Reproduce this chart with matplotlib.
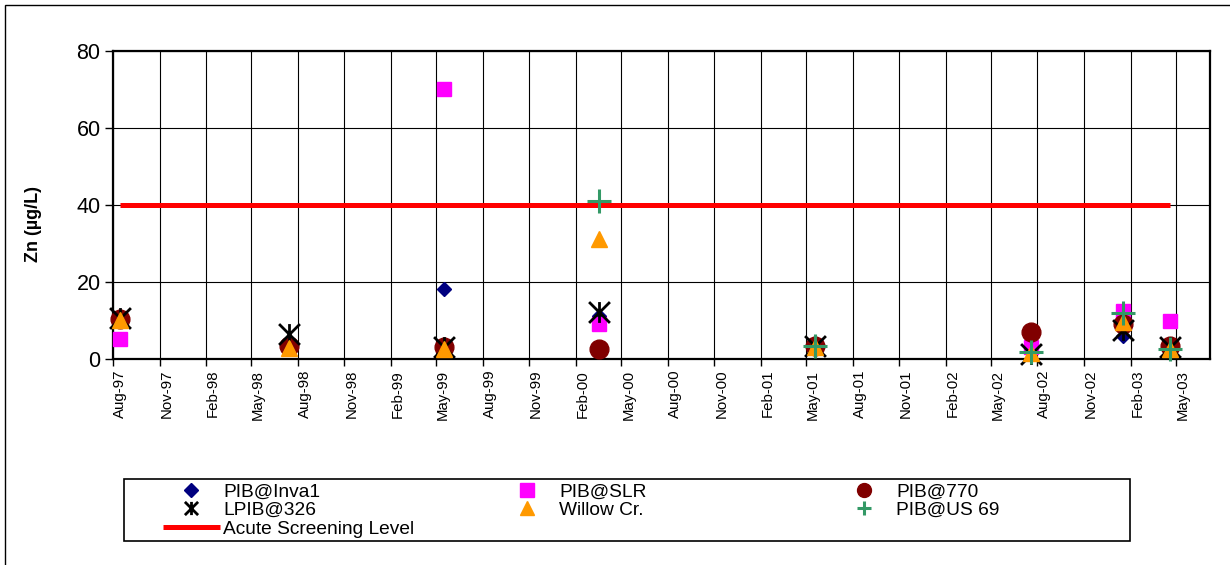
import numpy as np
import pandas as pd
import matplotlib
matplotlib.use("Agg")
import matplotlib.pyplot as plt
import matplotlib.dates as mdates
from matplotlib.path import Path
from matplotlib.patches import Rectangle
from matplotlib.transforms import ScaledTranslation

plt.rcParams['font.family'] = ['Liberation Sans', 'DejaVu Sans']

# Sampling dates
sample_dates = pd.to_datetime([
    "1997-08-15", "1998-07-14", "1999-05-17", "2000-03-18",
    "2001-05-19", "2002-07-19", "2003-01-17", "2003-04-20",
])

nan = np.nan
# Dissolved zinc (ug/L) at each station
pib_inva1 = [10, 3, 18, 11, 3, 2, 6, 3]
pib_slr = [5, nan, 70, 9, 3, 3, 12.5, 9.7]
pib_770 = [10.2, 3.2, 3, 2.6, 3.3, 7, 9, 3.4]
lpib_326 = [10.5, 6.5, 3, 12.2, 3.3, 1.2, 7.5, 3]
willow_cr = [10, 2.8, 2.5, 31, 3, 1.6, 9.6, 2.6]
pib_us69 = [nan, nan, nan, 41, 3.2, 1.8, 12, 2.6]

acute_level = 40

series_labels = ["PIB@Inva1", "PIB@SLR", "PIB@770",
                 "LPIB@326", "Willow Cr.", "PIB@US 69"]
acute_label = "Acute Screening Level"

# Excel-style star: an X crossed by a vertical bar
star = Path([(-1, -1), (1, 1), (-1, 1), (1, -1), (0, -1), (0, 1)],
            [Path.MOVETO, Path.LINETO, Path.MOVETO, Path.LINETO,
             Path.MOVETO, Path.LINETO])

W, H = 1230, 565
fig = plt.figure(figsize=(W / 100, H / 100), dpi=100)
fig.patch.set_facecolor("white")

# outer chart border
fig.add_artist(Rectangle((5 / W, -0.1), 1.2, 1 - 5 / H + 0.1,
                         transform=fig.transFigure, fill=False,
                         edgecolor="black", lw=1.0))

ax = fig.add_axes([113 / W, 1 - 358.7 / H, (1210 - 113) / W, 308 / H])

# marker style per series, with the marker size used in the legend
styles = [
    dict(marker="D", ms=7.5, color="#000080", leg_ms=7.0),
    dict(marker="s", ms=10.5, color="#FF00FF", leg_ms=9.5),
    dict(marker="o", ms=13.5, color="#800000", leg_ms=10.0),
    dict(marker=star, ms=15, color="black", mew=2.0, leg_ms=9.5),
    dict(marker="^", ms=11.5, color="#FF9900", leg_ms=10.5),
    dict(marker="+", ms=17, color="#339966", mew=2.2, leg_ms=10.5),
]
all_values = [pib_inva1, pib_slr, pib_770, lpib_326, willow_cr, pib_us69]

handles = []
legend_ms = {}
for vals, lab, st in zip(all_values, series_labels, styles):
    st = dict(st)
    col = st.pop("color")
    legend_ms[lab] = st.pop("leg_ms")
    (h,) = ax.plot(sample_dates, np.array(vals, dtype=float), linestyle="none",
                   color=col, mfc=col, mec=col, label=lab, clip_on=False,
                   zorder=3, **st)
    handles.append(h)

(acute_h,) = ax.plot([sample_dates[0], sample_dates[-1]],
                     [acute_level, acute_level], color="#FF0000", lw=3.6,
                     solid_capstyle="butt", zorder=2, label=acute_label)

ax.set_xlim(pd.Timestamp("1997-08-01"), pd.Timestamp("2003-07-08"))
ax.set_ylim(0, 80)
ax.set_yticks([0, 20, 40, 60, 80])
ax.xaxis.set_major_locator(mdates.MonthLocator(bymonth=(2, 5, 8, 11)))
ax.xaxis.set_major_formatter(mdates.DateFormatter("%b-%y"))

ax.grid(True, color="black", lw=0.8, zorder=0)
ax.set_axisbelow(True)
for sp in ax.spines.values():
    sp.set_linewidth(1.6)
    sp.set_color("black")

ax.tick_params(axis="y", direction="out", length=6, width=1,
               labelsize=15.5, pad=3)
ax.tick_params(axis="x", direction="out", length=5, width=1,
               labelsize=10.8, pad=3)
shift = ScaledTranslation(7 / 100, 0, fig.dpi_scale_trans)
for lbl in ax.get_xticklabels():
    lbl.set_rotation(90)
    lbl.set_ha("center")
    lbl.set_va("top")
    lbl.set_transform(lbl.get_transform() + shift)

fig.text(33 / W, 1 - 224 / H, "Zn (µg/L)", rotation=90, ha="center",
         va="center", fontsize=13, fontweight="bold")

# legend frame
fig.add_artist(Rectangle((124 / W, 1 - 541 / H), 1006 / W, 62 / H,
                         transform=fig.transFigure, facecolor="white",
                         edgecolor="black", lw=1.2))

leg_kw = dict(loc="upper left", frameon=False, borderpad=0,
              borderaxespad=0, handlelength=2.95, handletextpad=0.2,
              labelspacing=0.06, fontsize=13.8,
              bbox_transform=fig.transFigure)
columns = [
    ([handles[0], handles[3], acute_h], 163),
    ([handles[1], handles[4]], 499),
    ([handles[2], handles[5]], 836),
]
for hs, x0 in columns:
    leg = fig.legend(hs, [h.get_label() for h in hs],
                     bbox_to_anchor=(x0 / W, 1 - 483 / H), **leg_kw)
    for lh, src in zip(leg.legend_handles, hs):
        if src.get_label() in legend_ms:
            lh.set_markersize(legend_ms[src.get_label()])

fig.savefig("out.png", dpi=100)
